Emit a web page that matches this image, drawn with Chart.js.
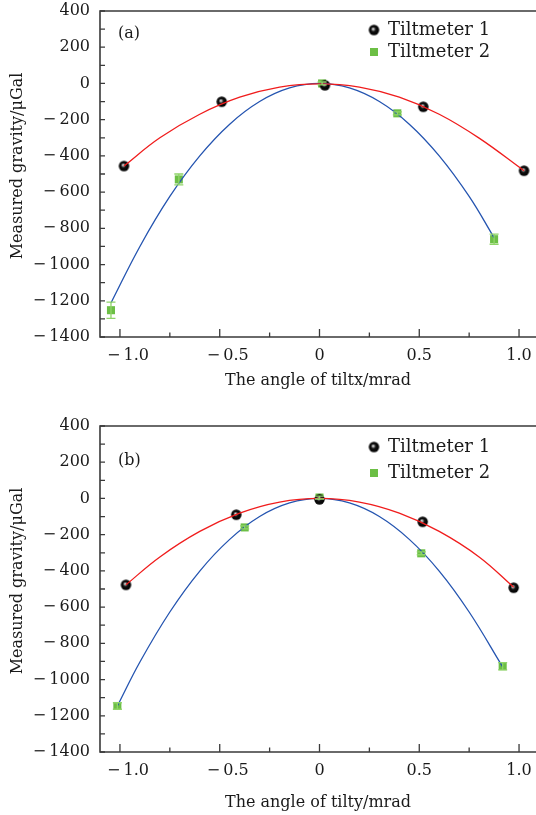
<!DOCTYPE html>
<html lang="en">
<head>
<meta charset="UTF-8">
<title>Measured gravity vs tilt angle</title>
<script src="https://cdn.jsdelivr.net/npm/chart.js"></script>
<style>
    html, body { margin: 0; padding: 0; background: #fff; }
    .panel { position: absolute; left: 0; width: 536px; }
    #panelA { top: 0; height: 400px; }
    #panelB { top: 410px; height: 405px; }
</style>
</head>
<body>
<div class="panel" id="panelA"><canvas id="chartA"></canvas></div>
<div class="panel" id="panelB"><canvas id="chartB"></canvas></div>
<script>
// tick values
const xTicks = [-1.0, -0.5, 0, 0.5, 1.0];
const yTicks = [400, 200, 0, -200, -400, -600, -800, -1000, -1200, -1400];

// panel (a): tiltx
const tiltxT1 = [-0.98, -0.49, 0.027, 0.52, 1.025];
const gravAT1 = [-456, -101, -10, -129, -482];
const tiltxT2 = [-1.045, -0.705, 0.013, 0.39, 0.875];
const gravAT2 = [-1252, -530, 0, -165, -860];
const errAT2 = [45, 30, 8, 8, 28];
const fitARedX = [-0.98, -0.8, -0.6, -0.4, -0.2, 0, 0.2, 0.4, 0.6, 0.8, 1.025];
const fitARedY = [-456, -300, -170, -76, -20, -2, -20, -76, -170, -302, -482];
const fitABlueX = [-1.045, -0.9, -0.75, -0.6, -0.45, -0.3, -0.15, 0, 0.15, 0.3, 0.45, 0.6, 0.75, 0.875];
const fitABlueY = [-1212, -900, -624, -400, -225, -100, -25, 0, -25, -100, -225, -400, -624, -852];

// panel (b): tilty
const tiltyT1 = [-0.97, -0.417, 0.0, 0.517, 0.973];
const gravBT1 = [-477, -90, -5, -129, -493];
const tiltyT2 = [-1.013, -0.375, 0.0, 0.51, 0.918];
const gravBT2 = [-1146, -160, 5, -303, -926];
const errBT2 = [18, 8, 8, 8, 20];
const fitBRedX = [-0.97, -0.8, -0.6, -0.4, -0.2, 0, 0.2, 0.4, 0.6, 0.8, 0.973];
const fitBRedY = [-477, -323, -182, -81, -20, 0, -20, -81, -182, -323, -490];
const fitBBlueX = [-1.013, -0.9, -0.75, -0.6, -0.45, -0.3, -0.15, 0, 0.15, 0.3, 0.45, 0.6, 0.75, 0.918];
const fitBBlueY = [-1146, -903, -627, -401, -226, -100, -25, 0, -25, -100, -226, -401, -627, -930];

const FONT = '"DejaVu Serif", "Liberation Serif", serif';
const TEXT = '#1a1a1a';
const AXIS = '#3a3a3a';
const GREEN = '#6cbf45';
const GREEN_ERR = '#8fd468';

function pts(xs, ys) {
    return xs.map((x, i) => ({ x: x, y: ys[i] }));
}

function minus(v, s) {
    return v < 0 ? '\u2212\u2009' + s : s;
}

// black ball marker with a little highlight
function makeBall(r) {
    const c = document.createElement('canvas');
    const s = Math.ceil(r * 2) + 2;
    c.width = c.height = s;
    const g = c.getContext('2d');
    const cx = s / 2, cy = s / 2;
    const grad = g.createRadialGradient(cx - 1, cy - 1.2, 0, cx, cy, r);
    grad.addColorStop(0, '#ffffff');
    grad.addColorStop(0.22, '#9a9a9a');
    grad.addColorStop(0.45, '#111');
    grad.addColorStop(1, '#000');
    g.fillStyle = grad;
    g.beginPath();
    g.arc(cx, cy, r, 0, Math.PI * 2);
    g.fill();
    return c;
}
const ball = makeBall(5.2);

function noPad(s) {
    s.paddingTop = 0; s.paddingBottom = 0; s.paddingLeft = 0; s.paddingRight = 0;
}

function makeDecor(p) {
    return {
        id: 'decor',
        afterDatasetsDraw(chart) {
            const { ctx, scales: { x, y } } = chart;
            ctx.save();
            ctx.strokeStyle = GREEN_ERR;
            ctx.lineWidth = 1.3;
            p.errX.forEach((xv, i) => {
                const px = x.getPixelForValue(xv);
                const y1 = y.getPixelForValue(p.errY[i] + p.err[i]);
                const y2 = y.getPixelForValue(p.errY[i] - p.err[i]);
                ctx.beginPath();
                ctx.moveTo(px, y1); ctx.lineTo(px, y2);
                ctx.moveTo(px - 4.5, y1); ctx.lineTo(px + 4.5, y1);
                ctx.moveTo(px - 4.5, y2); ctx.lineTo(px + 4.5, y2);
                ctx.stroke();
            });
            ctx.restore();
        },
        afterDraw(chart) {
            const { ctx, chartArea: a, scales: { x, y } } = chart;
            ctx.save();
            ctx.strokeStyle = AXIS;
            ctx.lineWidth = 1.6;
            ctx.beginPath();
            ctx.moveTo(a.right, a.top); ctx.lineTo(a.left, a.top);
            ctx.lineTo(a.left, a.bottom); ctx.lineTo(a.right, a.bottom);
            ctx.stroke();

            // inward ticks
            ctx.lineWidth = 1.3;
            ctx.beginPath();
            for (let v = -1400; v <= 400; v += 100) {
                const py = y.getPixelForValue(v);
                ctx.moveTo(a.left, py); ctx.lineTo(a.left + 5, py);
            }
            for (let v = -1.0; v <= 1.01; v += 0.25) {
                const px = x.getPixelForValue(v);
                const len = Math.abs(v * 2 - Math.round(v * 2)) < 1e-6 ? 8 : 4.5;
                ctx.moveTo(px, a.bottom); ctx.lineTo(px, a.bottom - len);
            }
            ctx.stroke();

            // panel tag
            ctx.fillStyle = TEXT;
            ctx.font = '16px ' + FONT;
            ctx.textAlign = 'left';
            ctx.textBaseline = 'middle';
            ctx.fillText(p.tag, a.left + 18, a.top + p.tagDy);

            // legend
            ctx.font = '18px ' + FONT;
            const lx = 374;
            ctx.drawImage(ball, lx - ball.width / 2, a.top + p.legendDy[0] - ball.height / 2);
            ctx.fillText(chart.data.datasets[2].label, lx + 14, a.top + p.legendDy[0]);
            ctx.fillStyle = GREEN;
            ctx.fillRect(lx - 4, a.top + p.legendDy[1] - 4, 8, 8);
            ctx.fillStyle = TEXT;
            ctx.fillText(chart.data.datasets[3].label, lx + 14, a.top + p.legendDy[1]);
            ctx.restore();
        }
    };
}

function makeChart(id, p) {
    return new Chart(document.getElementById(id), {
        type: 'scatter',
        data: {
            datasets: [
                { label: 'fit 1', data: pts(p.redX, p.redY), showLine: true, borderColor: '#f01c1c',
                  borderWidth: 1.3, pointRadius: 0, tension: 0.4, order: 0 },
                { label: 'fit 2', data: pts(p.blueX, p.blueY), showLine: true, borderColor: '#2454b0',
                  borderWidth: 1.3, pointRadius: 0, tension: 0.4, order: 0 },
                { label: 'Tiltmeter 1', data: pts(p.t1x, p.t1y), pointStyle: ball, pointRadius: 5, order: 1 },
                { label: 'Tiltmeter 2', data: pts(p.t2x, p.t2y), pointStyle: 'rect', pointRadius: 5.7,
                  backgroundColor: GREEN, borderColor: GREEN, borderWidth: 0, order: 1 }
            ]
        },
        options: {
            responsive: true,
            maintainAspectRatio: false,
            animation: false,
            layout: { autoPadding: false, padding: { top: p.padTop, right: 0, left: 0, bottom: 0 } },
            plugins: { legend: { display: false }, tooltip: { enabled: false } },
            scales: {
                x: {
                    type: 'linear', min: -1.1, max: 1.085,
                    grid: { display: false, drawTicks: false },
                    border: { display: false },
                    afterBuildTicks: s => { s.ticks = xTicks.map(v => ({ value: v })); },
                    afterFit: s => { s.height = 63; noPad(s); },
                    ticks: {
                        padding: 9, color: TEXT, maxRotation: 0, font: { family: FONT, size: 16 },
                        // negative labels hang the minus sign left of the tick
                        callback: v => v === 0 ? '0' : (v < 0 ? '\u2003' : '') + minus(v, Math.abs(v).toFixed(1))
                    },
                    title: { display: true, text: p.xTitle, color: TEXT,
                             font: { family: FONT, size: 16 }, padding: { top: 0, bottom: p.titlePad } }
                },
                y: {
                    min: -1400, max: 400,
                    grid: { display: false, drawTicks: false },
                    border: { display: false },
                    afterBuildTicks: s => { s.ticks = yTicks.map(v => ({ value: v })); },
                    afterFit: s => { s.width = 100; noPad(s); },
                    ticks: {
                        padding: 10, color: TEXT, font: { family: FONT, size: 16 },
                        callback: v => minus(v, String(Math.abs(v)))
                    },
                    // leading em space nudges the title a little up, as in the original
                    title: { display: true, text: '\u2003Measured gravity/\u03bcGal', color: TEXT,
                             font: { family: FONT, size: 16 }, padding: { top: 8, bottom: 0 } }
                }
            }
        },
        plugins: [makeDecor(p)]
    });
}

makeChart('chartA', {
    padTop: 11, titlePad: 10, xTitle: 'The angle of tiltx/mrad', tag: '(a)', tagDy: 23, legendDy: [19, 41],
    redX: fitARedX, redY: fitARedY, blueX: fitABlueX, blueY: fitABlueY,
    t1x: tiltxT1, t1y: gravAT1, t2x: tiltxT2, t2y: gravAT2,
    errX: tiltxT2, errY: gravAT2, err: errAT2
});

makeChart('chartB', {
    padTop: 16, titlePad: 2.4, xTitle: 'The angle of tilty/mrad', tag: '(b)', tagDy: 35, legendDy: [21, 47],
    redX: fitBRedX, redY: fitBRedY, blueX: fitBBlueX, blueY: fitBBlueY,
    t1x: tiltyT1, t1y: gravBT1, t2x: tiltyT2, t2y: gravBT2,
    errX: tiltyT2, errY: gravBT2, err: errBT2
});
</script>
</body>
</html>
